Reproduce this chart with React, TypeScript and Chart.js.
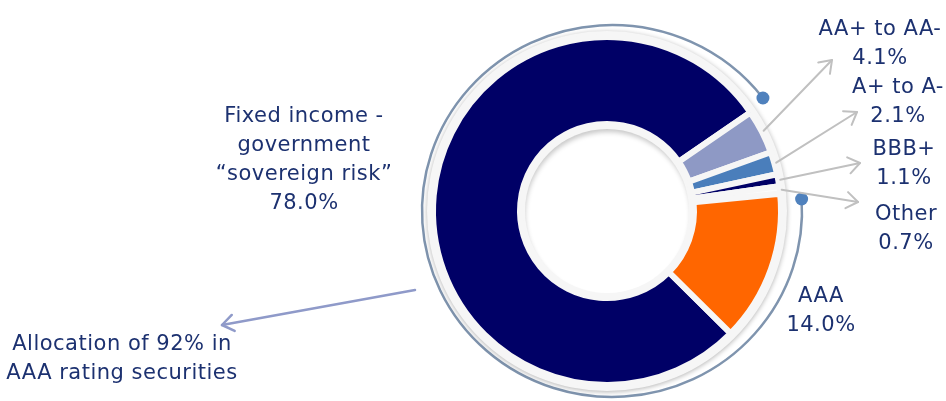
import React, { useEffect, useRef } from 'react';
import { Chart, registerables } from 'chart.js';

Chart.register(...registerables);

// ---- data ----
const categories = ['Fixed income - government “sovereign risk”', 'AA+ to AA-', 'A+ to A-', 'BBB+', 'Other', 'AAA'];
const labelLines = [['Fixed income -', 'government', '“sovereign risk”'], ['AA+ to AA-'], ['A+ to A-'], ['BBB+'], ['Other'], ['AAA']];
const shares = [78.0, 4.1, 2.1, 1.1, 0.7, 14.0];
const sliceColors = ['#000066', '#8e99c5', '#4a7ebb', '#000066', '#fbfbfb', '#ff6600'];
const noteLines = ['Allocation of 92% in', 'AAA rating securities'];

// ---- layout (label anchors: center x, first baseline y) ----
const labelPos = [[304, 122], [880, 35], [898, 93], [904, 155], [906, 220], [821, 302]];
const arrowEnds: (number[] | null)[] = [null, [832, 60], [857, 112], [860, 163], [858, 202], null];
const TEXT = '#1c3170';
const FONT = '21px "DejaVu Sans", Verdana, sans-serif';
const LINE = 29;
const RING = '#f6f6f6';

function arrow(ctx: CanvasRenderingContext2D, x1: number, y1: number, x2: number, y2: number, color: string, w: number) {
  const a = Math.atan2(y2 - y1, x2 - x1);
  const L = 14, spread = 0.62;
  ctx.save();
  ctx.strokeStyle = color;
  ctx.lineWidth = w;
  ctx.lineCap = 'round';
  ctx.lineJoin = 'round';
  ctx.beginPath();
  ctx.moveTo(x1, y1);
  ctx.lineTo(x2, y2);
  ctx.stroke();
  ctx.beginPath();
  ctx.moveTo(x2 - L * Math.cos(a - spread), y2 - L * Math.sin(a - spread));
  ctx.lineTo(x2, y2);
  ctx.lineTo(x2 - L * Math.cos(a + spread), y2 - L * Math.sin(a + spread));
  ctx.stroke();
  ctx.restore();
}

const decor = {
  id: 'decor',
  beforeDatasetsDraw(chart: any) {
    const ctx: CanvasRenderingContext2D = chart.ctx;
    const el = chart.getDatasetMeta(0).data[0];
    const { x, y, outerRadius } = el;
    // decorative thin arc with dots
    const ex = x + 5, ey = y, rx = 190, ry = 186;
    const a0 = (-3.7 * Math.PI) / 180, a1 = ((360 - 37.4) * Math.PI) / 180;
    ctx.save();
    ctx.strokeStyle = '#7f94ae';
    ctx.lineWidth = 2.5;
    ctx.beginPath();
    ctx.ellipse(ex, ey, rx, ry, 0, a0, a1);
    ctx.stroke();
    ctx.fillStyle = '#4f81bd';
    for (const a of [a0, a1]) {
      ctx.beginPath();
      ctx.arc(ex + rx * Math.cos(a), ey + ry * Math.sin(a), 6.5, 0, Math.PI * 2);
      ctx.fill();
    }
    ctx.restore();
    // light grey backing disc with shadow
    ctx.save();
    ctx.shadowColor = 'rgba(0,0,0,0.30)';
    ctx.shadowBlur = 5;
    ctx.shadowOffsetX = 0;
    ctx.shadowOffsetY = 1;
    ctx.fillStyle = RING;
    ctx.beginPath();
    ctx.arc(x, y, outerRadius + 6, 0, Math.PI * 2);
    ctx.fill();
    ctx.restore();
  },
  afterDatasetsDraw(chart: any) {
    const ctx: CanvasRenderingContext2D = chart.ctx;
    const meta = chart.getDatasetMeta(0);
    const el = meta.data[0];
    const { x, y, innerRadius } = el;
    const hr = innerRadius - 5;
    // white hole with inset shadow (top side)
    ctx.save();
    ctx.fillStyle = '#ffffff';
    ctx.beginPath();
    ctx.arc(x, y, hr, 0, Math.PI * 2);
    ctx.fill();
    ctx.clip();
    ctx.shadowColor = 'rgba(0,0,0,0.22)';
    ctx.shadowBlur = 5;
    ctx.shadowOffsetX = 1;
    ctx.shadowOffsetY = 4;
    ctx.strokeStyle = RING;
    ctx.lineWidth = 30;
    ctx.beginPath();
    ctx.arc(x, y, hr + 16, 0, Math.PI * 2);
    ctx.stroke();
    ctx.restore();
    // leader arrows
    meta.data.forEach((arc: any, i: number) => {
      const end = arrowEnds[i];
      if (!end) return;
      const mid = (arc.startAngle + arc.endAngle) / 2;
      const r = arc.outerRadius + 2;
      arrow(ctx, x + r * Math.cos(mid), y + r * Math.sin(mid), end[0], end[1], '#c0c0c0', 2);
    });
    arrow(ctx, 415, 290, 222, 325, '#8f9ac9', 2.5);
    // labels
    ctx.save();
    ctx.font = FONT;
    (ctx as any).letterSpacing = '0.5px';
    ctx.fillStyle = TEXT;
    ctx.textAlign = 'center';
    ctx.textBaseline = 'alphabetic';
    labelLines.forEach((lines, i) => {
      const [lx, ly] = labelPos[i];
      const all = [...lines, shares[i].toFixed(1) + '%'];
      all.forEach((t, k) => ctx.fillText(t, lx, ly + k * LINE));
    });
    noteLines.forEach((t, k) => ctx.fillText(t, 122, 350 + k * 28.5));
    ctx.restore();
  },
};

export default function App() {
  const ref = useRef<HTMLCanvasElement>(null);
  useEffect(() => {
    if (!ref.current) return;
    const chart = new Chart(ref.current, {
      type: 'doughnut',
      data: {
        labels: categories,
        datasets: [
          {
            data: shares,
            backgroundColor: sliceColors,
            borderColor: RING,
            borderWidth: 6,
            hoverOffset: 0,
          },
        ],
      },
      options: {
        animation: false,
        responsive: false,
        devicePixelRatio: 1,
        rotation: 134.7,
        radius: 174,
        cutout: '50%',
        layout: { padding: { left: 268, top: 21, right: 0, bottom: 0 } },
        plugins: { legend: { display: false }, tooltip: { enabled: false } },
        events: [],
      },
      plugins: [decor],
    } as any);
    return () => chart.destroy();
  }, []);
  return (
    <div style={{ position: 'absolute', left: 0, top: 0, width: 946, height: 401, background: '#fff' }}>
      <canvas ref={ref} width={946} height={401} style={{ display: 'block' }} />
    </div>
  );
}
